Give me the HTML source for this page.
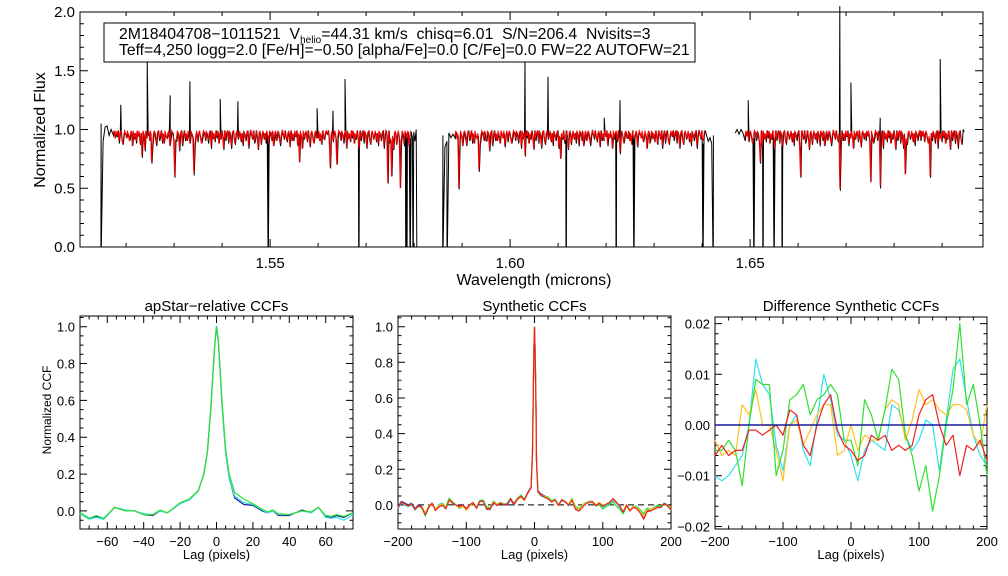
<!DOCTYPE html>
<html><head><meta charset="utf-8"><style>
html,body{margin:0;padding:0;background:#fff;}
svg{display:block;font-family:"Liberation Sans",sans-serif;}
text{white-space:pre;}
</style></head><body>
<svg id="fig" width="1008" height="576" viewBox="0 0 1008 576" xmlns="http://www.w3.org/2000/svg">
<rect x="0" y="0" width="1008" height="576" fill="#fff"/>
<g id="top"></g>
<g id="p1"></g>
<g id="p2"></g>
<g id="p3"></g>
<g>
<rect x="104" y="23" width="591" height="39" fill="#fff" stroke="#000" stroke-width="1"/>
<text x="119" y="39" font-size="15.8" xml:space="preserve">2M18404708−1011521  V<tspan font-size="10" dy="4">helio</tspan><tspan dy="-4">=44.31 km/s  chisq=6.01  S/N=206.4  Nvisits=3</tspan></text>
<text x="119" y="55" font-size="15.7">Teff=4,250 logg=2.0 [Fe/H]=−0.50 [alpha/Fe]=0.0 [C/Fe]=0.0 FW=22 AUTOFW=21</text>
</g>
</svg>
<script>
// ---------- top spectrum data ----------
const specStep = 0.0002;
const redStarts = [1.5173, 1.5885, 1.6489];
const redEnds = [1.5794, 1.6406, 1.6942];
const redForest = [
"1030204103520130241060314020513027031040261035103204150231062013043027105203140250130620410352013024106031402051302703104026103510320415023106201304302710520314025013062041035201302410603140205130270310402610351032041502310",
"2031040261035103204150231062013043027105203140250130620410352013024106031402051302703104026103510320415023106201304302710520314025013062041035201302410603140205130270310402610351032041502310620130430271052031402501306204103520",
"302041035201302410603140205130270310402610351032041502310620130430271052031402501306204103520130241060314020513027031040261031302041035201302410603140205130270310402610351032041502310"
];
const blackStarts = [1.5148, 1.5860, 1.6469];
const blackEnds = [1.5807, 1.6427, 1.6948];
const blackLeft = [[1.05,0.9,1.02,1.03,0.95,1.0],[0.95,0.85,0.9,0.97,0.93,0.96],[0.97,1.0,0.96,1.0,0.97]];
const blackRight = [[0.93,0.98,0.9,1.0],[0.95,0.9,0.93,0.88,0.95],[1.0,0.98]];
const lineWaves = [1.5233,1.5254,1.5302,1.5342,1.5562,1.5625,1.5639,1.5746,1.5754,1.5771,1.5894,1.5935,1.6031,1.6104,1.6229,1.6521,1.6604,1.6687,1.6750,1.6771,1.6823,1.6875];
const lineFlux  = [0.78,0.72,0.60,0.63,0.72,0.68,0.70,0.55,0.60,0.50,0.50,0.65,0.78,0.75,0.80,0.72,0.60,0.50,0.55,0.52,0.62,0.60];
const spikeWaves = [1.5189,1.5244,1.5292,1.5333,1.5396,1.5433,1.5598,1.5631,1.5656,1.6031,1.6079,1.6196,1.6229,1.6496,1.6687,1.6710,1.6771,1.6896];
const spikeFlux  = [1.21,1.60,1.29,1.41,1.26,1.24,1.18,1.16,1.43,1.60,1.45,1.10,1.25,1.25,2.05,1.40,1.10,1.60];
const dropWaves = [1.5148,1.5496,1.5685,1.5783,1.5785,1.5792,1.5798,1.5806,1.5860,1.5869,1.6117,1.6221,1.6258,1.6402,1.6423,1.6508,1.6527,1.6550,1.6567];
const topXTicks = [1.55, 1.60, 1.65];
const topYTicks = [0.0, 0.5, 1.0, 1.5, 2.0];

// ---------- CCF data ----------
const p1Lags  = [-75,-70,-66,-62,-56,-50,-45,-40,-35,-31,-27,-20,-15,-10,-7,-5,-3,-2,-1,0,1,2,3,5,7,10,15,20,25,28,31,34,40,47,52,56,60,63,66,70,75];
const p1Navy  = [-0.01,-0.04,-0.03,-0.045,0.02,0.0,0.0,-0.02,-0.025,0.0,-0.01,0.04,0.06,0.11,0.2,0.32,0.57,0.74,0.9,1.0,0.92,0.76,0.58,0.32,0.18,0.07,0.035,0.03,0.0,-0.01,0.0,-0.025,-0.025,0.005,-0.01,0.02,-0.03,-0.035,-0.025,-0.035,-0.01];
const p1Cyan  = [-0.015,-0.045,-0.035,-0.045,0.02,0.005,0.0,-0.015,-0.02,0.0,-0.01,0.04,0.06,0.11,0.2,0.32,0.57,0.74,0.9,1.0,0.92,0.76,0.58,0.32,0.18,0.08,0.045,0.035,0.005,-0.01,0.0,-0.02,-0.02,0.0,-0.01,0.02,-0.035,-0.04,-0.035,-0.05,-0.02];
const p1Green = [-0.01,-0.04,-0.025,-0.04,0.02,0.0,0.0,-0.02,-0.02,0.005,-0.01,0.045,0.065,0.11,0.2,0.32,0.57,0.74,0.9,1.0,0.93,0.77,0.6,0.34,0.2,0.1,0.065,0.04,0.01,-0.005,0.005,-0.015,-0.02,0.0,-0.005,0.02,-0.025,-0.03,-0.02,-0.03,-0.01];
const p2Lags = [-200,-195,-190,-185,-180,-175,-170,-165,-160,-155,-150,-145,-140,-135,-130,-125,-120,-115,-110,-105,-100,-95,-90,-85,-80,-75,-70,-65,-60,-55,-50,-45,-40,-35,-30,-25,-20,-15,-10,-5,-3,-2,-1,0,1,2,3,5,10,15,20,25,30,35,40,45,50,55,60,65,70,75,80,85,90,95,100,105,110,115,120,125,130,135,140,145,150,155,160,165,170,175,180,185,190,195,200];
const p2Base = [-0.01,0.02,0.01,0.0,0.01,-0.02,0.0,-0.01,-0.05,-0.01,0.01,-0.03,-0.01,0.0,-0.02,0.03,0.01,0.0,-0.01,0.0,-0.02,0.0,0.01,-0.02,0.02,0.02,-0.02,-0.02,0.02,0.0,0.01,0.0,0.0,0.03,0.0,0.03,0.05,0.03,0.07,0.1,0.3,0.55,0.85,1.0,0.85,0.6,0.25,0.08,0.06,0.05,0.04,0.02,0.03,0.0,0.03,0.02,0.0,0.03,-0.02,-0.03,-0.01,0.01,0.02,0.02,0.0,0.01,-0.01,0.0,0.01,0.03,0.01,-0.01,-0.04,0.0,-0.03,-0.01,-0.02,-0.04,-0.07,-0.03,-0.03,-0.02,-0.01,-0.01,0.01,0.0,-0.02];
const p3Lags = [-200,-190,-180,-170,-160,-150,-140,-130,-120,-110,-100,-90,-80,-70,-60,-50,-40,-30,-20,-10,0,10,20,30,40,50,60,70,80,90,100,110,120,130,140,150,160,170,180,190,200];
const diffGreen  = [-0.005,-0.005,-0.003,-0.005,-0.012,0.0,0.009,0.008,0.008,-0.01,-0.005,0.005,0.006,0.008,0.002,0.005,0.006,0.008,0.006,-0.003,-0.003,-0.008,0.005,0.002,-0.003,0.003,0.011,0.009,-0.002,-0.006,-0.013,-0.008,-0.017,-0.01,0.0,0.007,0.02,0.004,0.008,0.0,-0.01];
const diffCyan   = [-0.01,-0.011,-0.01,-0.008,-0.006,0.0,0.013,0.008,0.006,-0.004,-0.009,0.0,0.002,-0.005,-0.008,0.001,0.01,0.005,-0.002,-0.003,-0.006,-0.011,-0.005,-0.003,-0.004,-0.005,0.004,0.003,-0.002,-0.005,-0.003,0.001,0.0,-0.009,0.001,0.011,0.013,0.005,-0.002,-0.006,-0.008];
const diffOrange = [-0.003,-0.006,-0.005,-0.006,0.004,0.002,0.007,0.0,0.0,-0.005,-0.011,0.0,0.001,-0.004,-0.001,0.002,0.004,0.004,-0.006,-0.005,0.0,-0.005,-0.002,-0.003,-0.003,0.003,0.005,0.004,-0.003,0.001,0.007,0.004,0.005,0.003,0.002,0.004,0.004,0.003,-0.002,-0.004,0.004];
const diffRed    = [-0.006,-0.004,-0.006,-0.005,-0.005,-0.001,-0.001,-0.002,-0.001,0.0,-0.002,0.003,0.002,-0.004,-0.006,0.0,0.004,0.006,-0.001,-0.004,-0.005,-0.007,-0.006,-0.002,-0.003,-0.002,-0.005,-0.004,-0.005,-0.004,0.002,0.005,0.006,0.0,-0.004,-0.002,-0.01,-0.004,-0.005,-0.003,-0.007];
const diffNavy   = p3Lags.map(() => 0);

const NS = "http://www.w3.org/2000/svg";
function mk(parent, tag, attrs, name, txt) {
  const el = document.createElementNS(NS, tag);
  for (const k in attrs) el.setAttribute(k, attrs[k]);
  
  
  if (txt !== undefined) el.textContent = txt;
  parent.appendChild(el);
  return el;
}
function fmt(v, d) { const s = Math.abs(v).toFixed(d); return (v < 0 ? "−" : "") + s; }

function axes(g, box, xr, yr, xMajor, xMinor, yMajor, yMinor, xd, yd, fs, tl) {
  const sx = v => box.x0 + (v - xr[0]) / (xr[1] - xr[0]) * (box.x1 - box.x0);
  const sy = v => box.y1 - (v - yr[0]) / (yr[1] - yr[0]) * (box.y1 - box.y0);
  let d = "";
  const eps = 1e-9;
  for (let v = Math.ceil((xr[0] - eps) / xMinor) * xMinor; v <= xr[1] + eps; v += xMinor) {
    const isMaj = Math.abs(v / xMajor - Math.round(v / xMajor)) < 1e-6;
    const L = isMaj ? tl : tl / 2, x = sx(v).toFixed(1);
    d += `M${x} ${box.y1}v${-L}M${x} ${box.y0}v${L}`;
  }
  for (let v = Math.ceil((yr[0] - eps) / yMinor) * yMinor; v <= yr[1] + eps; v += yMinor) {
    const isMaj = Math.abs(v / yMajor - Math.round(v / yMajor)) < 1e-6;
    const L = isMaj ? tl : tl / 2, y = sy(v).toFixed(1);
    d += `M${box.x0} ${y}h${L}M${box.x1} ${y}h${-L}`;
  }
  mk(g, "path", {d: d, stroke: "#000", "stroke-width": 1, fill: "none"}, "tick-marks");
  mk(g, "rect", {x: box.x0, y: box.y0, width: box.x1 - box.x0, height: box.y1 - box.y0, fill: "none", stroke: "#000", "stroke-width": 1}, "plot-frame");
  return {sx, sy};
}

(function () {
  const g = document.getElementById("top");
  const box = {x0: 80, x1: 983, y0: 12, y1: 247};
  const xr = [1.5104, 1.5104 + 903 / 4800], yr = [0, 2.0];
  const A = axes(g, box, xr, yr, 0.05, 0.01, 0.5, 0.1, 2, 1, 15, 8);
  topXTicks.forEach(v => mk(g, "text", {x: A.sx(v), y: 268, "font-size": 15, "text-anchor": "middle"}, "x-tick-label", v.toFixed(2)));
  topYTicks.forEach(v => mk(g, "text", {x: 75, y: A.sy(v) + 5, "font-size": 15, "text-anchor": "end"}, "y-tick-label", v.toFixed(1)));
  mk(g, "text", {x: 534, y: 285, "font-size": 16, "text-anchor": "middle"}, "x-axis-title", "Wavelength (microns)");
  mk(g, "text", {x: 45, y: 130, "font-size": 16, "text-anchor": "middle", transform: "rotate(-90 45 130)"}, "y-axis-title", "Normalized Flux");

  const redSegs = [];
  for (let s = 0; s < 3; s++) {
    const pts = [];
    const str = redForest[s];
    for (let i = 0; ; i++) {
      const l = redStarts[s] + i * specStep;
      if (l > redEnds[s]) break;
      const dgt = +str[i % str.length];
      pts.push([l, 0.99 - dgt * 0.022]);
    }
    lineWaves.forEach((lw, k) => {
      const idx = Math.round((lw - redStarts[s]) / specStep);
      if (idx >= 0 && idx < pts.length) {
        pts[idx][1] = Math.min(pts[idx][1], lineFlux[k]);
      }
    });
    redSegs.push(pts);
  }
  for (let s = 0; s < 3; s++) {
    let pts = [];
    const red = redSegs[s];
    blackLeft[s].forEach((f, i) => pts.push([blackStarts[s] + i * (redStarts[s] - blackStarts[s]) / blackLeft[s].length, f]));
    red.forEach((p, i) => pts.push([p[0] + specStep * 0.5, p[1] - 0.01 + ((i % 3) - 1) * 0.012]));
    blackRight[s].forEach((f, i) => pts.push([redEnds[s] + (i + 1) * (blackEnds[s] - redEnds[s]) / (blackRight[s].length + 1), f]));
    spikeWaves.forEach((w, k) => { if (w >= blackStarts[s] && w <= blackEnds[s]) pts.push([w, spikeFlux[k]]); });
    dropWaves.forEach(w => {
      if (w >= blackStarts[s] - 1e-5 && w <= blackEnds[s] + 1e-5) {
        pts.push([w - 0.00004, 0.0]); pts.push([w + 0.00004, 0.0]);
      }
    });
    pts.sort((a, b) => a[0] - b[0]);
    const d = pts.map(p => A.sx(p[0]).toFixed(1) + "," + A.sy(p[1]).toFixed(1)).join(" ");
    mk(g, "polyline", {points: d, fill: "none", stroke: "#000", "stroke-width": 1}, "observed-spectrum-segment");
  }
  redSegs.forEach(pts => {
    const d = pts.map(p => A.sx(p[0]).toFixed(1) + "," + A.sy(p[1]).toFixed(1)).join(" ");
    mk(g, "polyline", {points: d, fill: "none", stroke: "#f00", "stroke-width": 1}, "model-spectrum-segment");
  });
})();

function interp(xs, ys, x) {
  if (x <= xs[0]) return ys[0];
  for (let i = 1; i < xs.length; i++) if (x <= xs[i]) {
    const t = (x - xs[i - 1]) / (xs[i] - xs[i - 1]); return ys[i - 1] + t * (ys[i] - ys[i - 1]);
  }
  return ys[ys.length - 1];
}
function curve(g, A, xs, ys, color, name, w) {
  const d = xs.map((x, i) => A.sx(x).toFixed(1) + "," + A.sy(ys[i]).toFixed(1)).join(" ");
  mk(g, "polyline", {points: d, fill: "none", stroke: color, "stroke-width": w || 1.2, "stroke-linejoin": "round"}, name);
}
function smallPanel(g, box, xr, yr, xMaj, xMin, yMaj, yMin, xTicks, yTicks, xd, yd, title) {
  const A = axes(g, box, xr, yr, xMaj, xMin, yMaj, yMin, xd, yd, 13, 7);
  xTicks.forEach(v => mk(g, "text", {x: A.sx(v), y: box.y1 + 17, "font-size": 13, "text-anchor": "middle"}, "x-tick-label", fmt(v, xd)));
  yTicks.forEach(v => mk(g, "text", {x: box.x0 - 5, y: A.sy(v) + 5, "font-size": 13, "text-anchor": "end"}, "y-tick-label", fmt(v, yd)));
  mk(g, "text", {x: (box.x0 + box.x1) / 2, y: box.y1 + 30, "font-size": 13, "text-anchor": "middle"}, "x-axis-title", "Lag (pixels)");
  mk(g, "text", {x: (box.x0 + box.x1) / 2, y: 311, "font-size": 15, "text-anchor": "middle"}, "panel-title", title);
  return A;
}

(function () {
  const g = document.getElementById("p1");
  const box = {x0: 80, x1: 353, y0: 316, y1: 529};
  const A = smallPanel(g, box, [-75, 75], [-0.098, 1.058], 20, 5, 0.2, 0.05,
    [-60, -40, -20, 0, 20, 40, 60], [0, 0.2, 0.4, 0.6, 0.8, 1.0], 0, 1, "apStar−relative CCFs");
  mk(g, "text", {x: 51, y: 410, "font-size": 12, "text-anchor": "middle", transform: "rotate(-90 51 410)"}, "y-axis-title", "Normalized CCF");
  curve(g, A, p1Lags, p1Navy, "#1a1a9a", "ccf-navy");
  curve(g, A, p1Lags, p1Cyan, "#30e0f0", "ccf-cyan");
  curve(g, A, p1Lags, p1Green, "#30e030", "ccf-green");
})();

(function () {
  const g = document.getElementById("p2");
  const box = {x0: 398, x1: 671, y0: 316, y1: 529};
  const A = smallPanel(g, box, [-200, 200], [-0.135, 1.06], 100, 20, 0.2, 0.05,
    [-200, -100, 0, 100, 200], [0, 0.2, 0.4, 0.6, 0.8, 1.0], 0, 1, "Synthetic CCFs");
  mk(g, "line", {x1: box.x0, x2: box.x1, y1: A.sy(0), y2: A.sy(0), stroke: "#000", "stroke-dasharray": "6,4", "stroke-width": 1}, "zero-line");
  const series = [[diffNavy, "#1a1a9a", "ccf-navy"], [diffCyan, "#30e0f0", "ccf-cyan"], [diffGreen, "#30e030", "ccf-green"], [diffOrange, "#ffc020", "ccf-orange"], [diffRed, "#f02020", "ccf-red"]];
  series.forEach(s => {
    const ys = p2Lags.map((l, i) => p2Base[i] + interp(p3Lags, s[0], l));
    curve(g, A, p2Lags, ys, s[1], s[2]);
  });
})();

(function () {
  const g = document.getElementById("p3");
  const box = {x0: 715, x1: 987, y0: 317, y1: 529};
  const A = smallPanel(g, box, [-200, 200], [-0.0205, 0.0213], 100, 20, 0.01, 0.002,
    [-200, -100, 0, 100, 200], [-0.02, -0.01, 0, 0.01, 0.02], 0, 2, "Difference Synthetic CCFs");
  curve(g, A, p3Lags, diffCyan, "#30e0f0", "diff-cyan");
  curve(g, A, p3Lags, diffOrange, "#ffc020", "diff-orange");
  curve(g, A, p3Lags, diffGreen, "#30e030", "diff-green");
  curve(g, A, p3Lags, diffRed, "#f02020", "diff-red");
  curve(g, A, p3Lags, diffNavy, "#1a1a9a", "diff-navy", 1.5);
})();
</script>
</body></html>
